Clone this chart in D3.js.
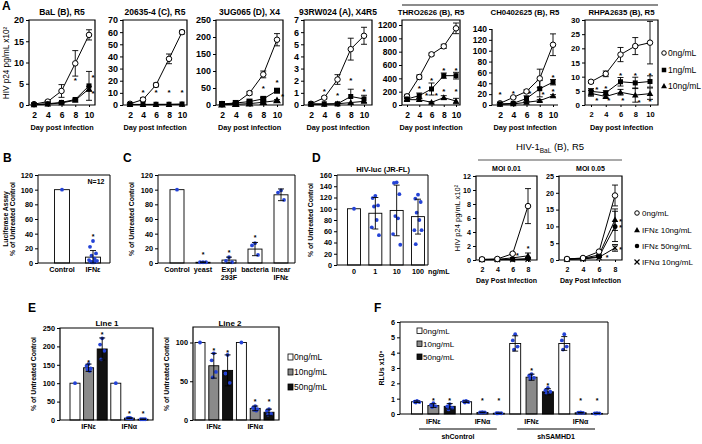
<!DOCTYPE html>
<html><head><meta charset="utf-8">
<script src="https://cdn.jsdelivr.net/npm/d3@7"></script>
<style>body{margin:0;background:#fff} text{font-family:"Liberation Sans",Arial,Helvetica,sans-serif}</style>
</head><body><svg id="c" width="702" height="444"></svg>
<script>
// ================= DATA =================
const daysA = [2,4,6,8,10];
const legendA = ["0ng/mL","1ng/mL","10ng/mL"];
const titlesA = ["BaL (B), R5","20635-4 (C), R5","3UG065 (D), X4","93RW024 (A), X4R5","THRO2626 (B), R5","CH0402625 (B), R5","RHPA2635 (B), R5"];

const bal0=[0.2,0.8,3.3,9.8,16.5],  bal0E=[0.2,0.2,1.5,3.0,1.2];
const bal1=[0.1,0.3,0.6,1.3,4.5],   bal1E=[0,0,0.2,0.3,3.4];
const bal10=[0.05,0.2,0.5,1.1,3.8], bal10E=[0,0,0.1,0.2,0.6];
const balStars=[[8,6.3],[10.6,7.0],[10.6,3.2]];

const c20_0=[1,4.5,16.5,38,60], c20_0E=[0.5,1.5,1.5,4,1.5];
const c20_1=[0.5,0.5,0.6,0.6,0.8], c20_1E=[0,0,0,0,0];
const c20_10=[0.3,0.3,0.3,0.4,0.5], c20_10E=[0,0,0,0,0];
const c20Stars=[[4,12],[6,12],[8,12],[10,12]];

const ug0=[2,5,35,90,192], ug0E=[2,3,5,10,18];
const ug1=[3,6,10,18,42], ug1E=[1,1,2,4,5];
const ug10=[1,2,4,8,13], ug10E=[0.5,1,1,2,3];
const ugStars=[[8,55],[10,72],[10.8,32]];

const rw0=[0.1,0.6,2.1,4.6,5.7], rw0E=[0.1,0.1,0.4,0.9,0.7];
const rw1=[0.1,0.1,0.1,0.7,0.5], rw1E=[0,0,0.1,0.6,0.3];
const rw10=[0.05,0.05,0.1,0.2,0.3], rw10E=[0,0,0,0,0];
const rwStars=[[4,1.3],[6,0.95],[8,2.15],[10,1.3]];

const th0=[130,420,760,880,1150], th0E=[30,30,20,30,80];
const th1=[90,140,240,440,440], th1E=[20,40,90,40,50];
const th10=[80,80,40,110,60], th10E=[20,20,10,30,40];
const thStars=[[4,270],[6,390],[8,550],[10,550],[5.2,170],[6.8,170],[8,230],[10,230]];

const ch0=[3,14,25,49,111], ch0E=[1,1,3,17,20];
const ch1=[2,3,12,30,42], ch1E=[1,1,5,15,5];
const ch10=[1,2,5,8,17], ch10E=[0.5,0.5,1,2,2];
const chStars=[[2,22],[4,24],[6.5,24],[8.5,22],[10,55],[10,29]];

const rh0=[8.2,11,17.8,20.8,22], rh0E=[0.5,1,2.5,3,7.5];
const rh1=[4.8,4.3,8.2,7.8,8.3], rh1E=[1,0.7,1.5,2,2];
const rh10=[4.1,3,4.5,3.5,4], rh10E=[1,0.5,1,2.5,2];
const rhStars=[[2.8,6],[4,6.4],[6,11],[8,11],[10,11],[2.8,2.4],[4.4,2.2],[6.3,2.2],[8.5,1.6],[10,1.8]];

// Panel B
const catB=["Control","IFNε"];
const valB=[100,8], errB=[0,9];
const dotsB=[[100],[30,22,13,10,6,4,3,2,2,1,1,1]];
// Panel C
const catC=[["Control"],["yeast"],["Expi","293F"],["bacteria"],["linear","IFNε"]];
const valC=[100,1,4,19,93], errC=[0,0.5,4,9,8];
const dotsC=[[100],[1,1,1],[8,3,1],[27,24,11],[99,96,86]];
const starsC=[null,14,16,36,null];
// Panel D left
const catD=["0","1","10","100"];
const valD=[100,92,97,86], errD=[0,28,45,31];
const dotsD=[[100],[123,119,106,104,80,67,53],[147,146,126,87,83,55,36],[125,118,112,93,80,62,62,37]];
// Panel D right
const daysD=[2,4,6,8];
const legendD=["0ng/mL","IFNε 10ng/mL","IFNε 50ng/mL","IFNα 10ng/mL"];
const m1_0=[0.1,0.15,0.9,7.7], m1_0E=[0,0,0.1,2.5];
const m1_e10=[0.05,0.1,0.3,0.6], m1_e10E=[0,0,0,0.4];
const m1_e50=[0.05,0.05,0.1,0.2], m1_e50E=[0,0,0,0.1];
const m1_a10=[0.05,0.05,0.05,0.1], m1_a10E=[0,0,0,0];
const m1Stars=[[6.6,0.9],[8,1.8]];
const m5_0=[0.3,0.6,2.5,19.2], m5_0E=[0,0.1,0.3,3.1];
const m5_e10=[0.3,0.5,1.5,12], m5_e10E=[0,0,0.2,3.2];
const m5_e50=[0.2,0.4,1.0,10], m5_e50E=[0,0,0.1,4.5];
const m5_a10=[0.2,0.3,0.8,3.6], m5_a10E=[0,0,0.1,1.0];
const m5Stars=[[8.7,12],[8.7,10],[8.7,3.6],[7,1.2]];
// Panel E
const legendE=["0ng/mL","10ng/mL","50ng/mL"];
const groupsE=["IFNε","IFNα"];
const e1Val=[100,142,193,100,5,2], e1Err=[0,10,30,0,1,0.5];
const e1Dots=[[100],[152,147,140,137,133],[222,205,188,165],[100],[6,5,4,5,5],[2,2,2]];
const e1Stars=[null,160,235,null,20,20];
const e2Val=[100,70,64,100,15,10], e2Err=[0,16,20,0,3,4];
const e2Dots=[[100],[86,77,62,55],[84,60,48],[100],[18,16,14,13,12],[14,12,8,7]];
const e2Stars=[null,91,89,null,26,26];
// Panel F
const groupsF=["IFNε","IFNα","IFNε","IFNα"];
const cellsF=["shControl","shSAMHD1"];
const fVal=[0.8,0.55,0.5,0.8,0.1,0.05,4.6,2.4,1.45,4.6,0.08,0.04];
const fErr=[0.05,0.12,0.18,0.05,0.02,0.01,0.5,0.2,0.2,0.45,0.02,0.01];
const fDots=[[0.85,0.8,0.78,0.75],[0.7,0.6,0.5,0.45],[0.65,0.5,0.4,0.3],[0.86,0.82,0.78,0.75],
  [0.12,0.1,0.1,0.09],[0.06,0.05,0.05,0.04],[5.2,4.8,4.4,4.2],[2.6,2.5,2.35,2.3],[1.7,1.55,1.45,1.35],
  [5.2,4.8,4.4,4.2],[0.1,0.08,0.07,0.07],[0.05,0.04,0.04,0.03]];
const fStars=[null,1.0,1.0,null,1.0,1.0,null,2.9,1.95,null,1.0,1.0];

// ================= DRAWING =================
const svg=d3.select("#c");
const BLUE="#2443d6";
const FILLS=["#ffffff","#8a8a8a","#111111"];
const fmt=d3.format("d");

function txt(x,y,s,o={}){
  const t=svg.append("text").attr("x",x).attr("y",y).text(s)
    .attr("font-size",o.size||8).attr("font-weight",o.bold?"bold":"normal")
    .attr("text-anchor",o.anchor||"middle").attr("fill",o.fill||"#000");
  if(o.rot) t.attr("transform",`rotate(-90,${x},${y})`);
  return t;
}
function star(x,y,size){ txt(x,y+size*0.55,"*",{size:size,bold:true}); }

function marker(g,type,cx,cy,sz){
  if(type==="circle") g.append("circle").attr("cx",cx).attr("cy",cy).attr("r",sz*0.5).attr("fill","#fff").attr("stroke","#000").attr("stroke-width",1);
  else if(type==="dot") g.append("circle").attr("cx",cx).attr("cy",cy).attr("r",sz*0.5).attr("fill","#000");
  else if(type==="square") g.append("rect").attr("x",cx-sz/2).attr("y",cy-sz/2).attr("width",sz).attr("height",sz).attr("fill","#000");
  else if(type==="triangle") g.append("path").attr("d",d3.symbol(d3.symbolTriangle,sz*sz*0.75)()).attr("transform",`translate(${cx},${cy+0.5})`).attr("fill","#000");
  else if(type==="cross") g.append("path").attr("d",`M${cx-2.5},${cy-2.5}L${cx+2.5},${cy+2.5}M${cx-2.5},${cy+2.5}L${cx+2.5},${cy-2.5}`).attr("stroke","#000").attr("stroke-width",1.2);
}

function styleAxis(sel,size,bold){
  sel.select(".domain").remove();
  sel.selectAll(".tick line").attr("stroke","#000");
  sel.selectAll(".tick text").attr("font-size",size).attr("font-weight",bold?"bold":"normal")
    .attr("font-family",'"Liberation Sans",Arial,sans-serif').attr("fill","#000");
}

function linePanel(o){
  const x=d3.scaleLinear().domain(o.xd).range(o.xr);
  const y=d3.scaleLinear().domain(o.yd).range([o.b,o.t]);
  const g=svg.append("g");
  const ya=g.append("g").attr("transform",`translate(${o.l},0)`)
    .call(d3.axisLeft(y).tickValues(o.yt).tickFormat(fmt).tickSize(3).tickPadding(2));
  styleAxis(ya,o.ys||9,true);
  const xa=g.append("g").attr("transform",`translate(0,${o.b})`)
    .call(d3.axisBottom(x).tickValues(o.xt).tickFormat(fmt).tickSize(2).tickPadding(5));
  styleAxis(xa,o.xs||8.5,true);
  const fr=o.box?`M${o.l},${o.b}V${o.t}H${o.r}V${o.b}Z`:`M${o.l},${o.t}V${o.b}H${o.r}`;
  g.append("path").attr("d",fr).attr("fill","none").attr("stroke","#000").attr("stroke-width",1.2);
  o.series.forEach(s=>{
    const pts=o.days.map((d,i)=>[x(d),y(s.v[i])]);
    g.append("path").attr("d",d3.line()(pts)).attr("fill","none").attr("stroke","#000").attr("stroke-width",1);
    s.v.forEach((v,i)=>{
      const e=s.e[i]; if(!e) return;
      const cx=x(o.days[i]), yu=y(v+e), yl=y(Math.max(0,v-e));
      g.append("path").attr("d",`M${cx},${yu}V${yl}M${cx-3},${yu}H${cx+3}M${cx-3},${yl}H${cx+3}`)
        .attr("stroke","#000").attr("stroke-width",0.9).attr("fill","none");
    });
  });
  o.series.forEach(s=>{
    o.days.forEach((d,i)=>marker(g,s.m,x(d),y(s.v[i]),s.sz||5));
  });
  o.stars.forEach(([sx,sy])=>star(x(sx),y(sy),o.starSize||8));
  if(o.title) txt((o.l+o.r)/2,o.t-5,o.title,{size:o.titleSize||8.5,bold:true});
  if(o.xlab) txt((o.l+o.r)/2,o.xlabY,o.xlab,{size:o.xlabSize||7.3,bold:true});
  return {x,y};
}

// ---- Panel A ----
txt(2,10,"A",{size:12,bold:true,anchor:"start"});
svg.append("path").attr("d","M402,5H658").attr("stroke","#8c8c8c").attr("stroke-width",2);
const panelsA=[
  {l:29,r:95,x2:34,x10:89,yd:[0,20],yt:[0,5,10,15,20],s:[[bal0,bal0E],[bal1,bal1E],[bal10,bal10E]],st:balStars,box:true},
  {l:123,r:187,x2:130,x10:182,yd:[0,70],yt:d3.range(0,71,10),s:[[c20_0,c20_0E],[c20_1,c20_1E],[c20_10,c20_10E]],st:c20Stars,box:true},
  {l:216,r:283,x2:222,x10:277,yd:[0,250],yt:d3.range(0,251,50),s:[[ug0,ug0E],[ug1,ug1E],[ug10,ug10E]],st:ugStars,box:true,sz:6},
  {l:304,r:372,x2:311,x10:364,yd:[0,7],yt:d3.range(0,8,1),s:[[rw0,rw0E],[rw1,rw1E],[rw10,rw10E]],st:rwStars,box:true},
  {l:402,r:460,x2:407,x10:456,yd:[0,1275],yt:d3.range(0,1201,200),s:[[th0,th0E],[th1,th1E],[th10,th10E]],st:thStars,box:true},
  {l:492,r:558,x2:500,x10:553,yd:[0,140],yt:d3.range(0,141,20),s:[[ch0,ch0E],[ch1,ch1E],[ch10,ch10E]],st:chStars,box:false,t:29},
  {l:585,r:658,x2:591,x10:650,yd:[0,30],yt:d3.range(0,31,5),s:[[rh0,rh0E],[rh1,rh1E],[rh10,rh10E]],st:rhStars,box:true,ys:8,xs:7.5}
];
const mk=["circle","square","triangle"];
panelsA.forEach((p,k)=>{
  const t=p.t||20;
  linePanel({l:p.l,r:p.r,t:t,b:105,xd:[2,10],xr:[p.x2,p.x10],yd:p.yd,yt:p.yt,xt:daysA,days:daysA,box:p.box,
    ys:p.ys||(k>=4?8.5:9),xs:p.xs||8.5,
    series:p.s.map((s,i)=>({v:s[0],e:s[1],m:mk[i],sz:i===0?5.5:(p.sz||5)})),
    stars:p.st,title:null,xlab:"Day post infection",xlabY:130,xlabSize:7.3});
  txt((p.l+p.r)/2,15,titlesA[k],{size:k>=4?7.8:8.5,bold:true});
});
txt(9,63,"HIV p24 pg/mL x10²",{size:8.2,rot:true});
// legend A
legendA.forEach((s,i)=>{
  const yy=[53,70,86][i];
  const g=svg.append("g");
  marker(g,mk[i],664,yy,4.5);
  txt(668,yy+3,s,{size:8.5,anchor:"start"});
});

// ---- Bar panel helper ----
function barPanel(o){
  const y=d3.scaleLinear().domain(o.yd).range([o.b,o.t]);
  const x=d3.scaleLinear().domain([0,o.vals.length-1]).range(o.cr);
  const g=svg.append("g");
  const ya=g.append("g").attr("transform",`translate(${o.l},0)`)
    .call(d3.axisLeft(y).tickValues(o.yt).tickFormat(fmt).tickSize(3).tickPadding(2));
  styleAxis(ya,o.ys||7.3,true);
  const w=o.bw;
  o.vals.forEach((v,i)=>{
    const cx=x(i);
    g.append("rect").attr("x",cx-w/2).attr("y",y(v)).attr("width",w).attr("height",o.b-y(v))
      .attr("fill",o.fills?o.fills[i]:"#fff").attr("stroke","#000").attr("stroke-width",0.9);
  });
  g.append("path").attr("d",`M${o.l},${o.b}V${o.t}H${o.r}V${o.b}Z`).attr("fill","none").attr("stroke","#000").attr("stroke-width",o.frameW||1);
  o.vals.forEach((v,i)=>{
    const cx=x(i);
    const ds=o.dots[i];
    const offs=[0,-3,3,-1.5,1.5,-4,4,-2.5,2.5,-1,1,0];
    ds.forEach((d,j)=>{
      const dx=ds.length===1?0:offs[j%offs.length]*(o.jit||1);
      g.append("circle").attr("cx",cx+dx).attr("cy",y(d)).attr("r",o.dr||1.9).attr("fill",BLUE);
    });
    const e=o.errs[i];
    if(e){
      const yu=y(v+e), yl=y(Math.max(0,v-e));
      g.append("path").attr("d",`M${cx},${yu}V${yl}M${cx-3},${yu}H${cx+3}M${cx-3},${yl}H${cx+3}`)
        .attr("stroke","#000").attr("stroke-width",0.9).attr("fill","none");
    }
    if(o.stars && o.stars[i]!=null) star(cx,y(o.stars[i]),7);
  });
  return {x,y};
}

// ---- Panel B ----
txt(3,162,"B",{size:12,bold:true,anchor:"start"});
const pB=barPanel({l:38,r:110,t:175,b:263,yd:[0,120],yt:d3.range(0,121,20),vals:valB,errs:errB,dots:dotsB,cr:[62,93],bw:15,stars:[null,38]});
catB.forEach((c,i)=>txt(pB.x(i),272,c,{size:7.2,bold:true}));
txt(96,184,"N=12",{size:7,bold:true});
txt(8,219,"Luciferase Assay",{size:6.8,bold:true,rot:true});
txt(15,219,"% of Untreated Control",{size:6.8,bold:true,rot:true});

// ---- Panel C ----
txt(123,162,"C",{size:12,bold:true,anchor:"start"});
const pC=barPanel({l:158,r:295,t:175,b:263,yd:[0,120],yt:d3.range(0,121,20),vals:valC,errs:errC,dots:dotsC,cr:[177,281],bw:14,stars:starsC,jit:1});
catC.forEach((c,i)=>c.forEach((s,j)=>txt(pC.x(i),272+j*7.5,s,{size:7.2,bold:true})));
txt(134,219,"% of Untreated Control",{size:6.8,bold:true,rot:true});

// ---- Panel D left ----
txt(312,162,"D",{size:12,bold:true,anchor:"start"});
const pD=barPanel({l:337,r:428,t:175,b:265,yd:[0,160],yt:d3.range(0,161,20),vals:valD,errs:errD,dots:dotsD,cr:[354,418],bw:13,jit:0.9});
catD.forEach((c,i)=>txt(pD.x(i),274,c,{size:7.2,bold:true}));
txt(428,274,"ng/mL",{size:7.2,bold:true,anchor:"start"});
txt(383,172,"HIV-luc (JR-FL)",{size:7.5,bold:true});
txt(313,220,"% of Untreated Control",{size:6.8,bold:true,rot:true});

// ---- Panel D right ----
const t1=txt(550,150,"HIV-1",{size:9.5});
t1.append("tspan").text("BaL").attr("font-size",6.5).attr("dy",2.5);
t1.append("tspan").text(" (B), R5").attr("dy",-2.5);
svg.append("path").attr("d","M478,160H622").attr("stroke","#8c8c8c").attr("stroke-width",1.5);
const mkD=["circle","triangle","dot","cross"];
linePanel({l:476,r:537,t:176,b:260,xd:[2,8],xr:[482,528],yd:[0,12],yt:d3.range(0,13,2),xt:daysD,days:daysD,box:true,ys:7.2,xs:7,
  series:[[m1_a10,m1_a10E],[m1_e50,m1_e50E],[m1_e10,m1_e10E],[m1_0,m1_0E]].map((s,i)=>({v:s[0],e:s[1],m:mkD[3-i],sz:i===3?5.5:5})),
  stars:m1Stars,title:"MOI 0.01",titleSize:7,xlab:"Day Post Infection",xlabY:283,xlabSize:7,starSize:7});
linePanel({l:559,r:622,t:176,b:260,xd:[2,8],xr:[567,615],yd:[0,25],yt:d3.range(0,26,5),xt:daysD,days:daysD,box:true,ys:7.2,xs:7,
  series:[[m5_a10,m5_a10E],[m5_e50,m5_e50E],[m5_e10,m5_e10E],[m5_0,m5_0E]].map((s,i)=>({v:s[0],e:s[1],m:mkD[3-i],sz:i===3?5.5:5})),
  stars:m5Stars,title:"MOI 0.05",titleSize:7,xlab:"Day Post Infection",xlabY:283,xlabSize:7,starSize:7});
txt(460,218,"HIV p24 pg/mL x10²",{size:7.5,rot:true});
legendD.forEach((s,i)=>{
  const yy=[213,230,246,262][i];
  const g=svg.append("g");
  marker(g,mkD[i],637,yy,4.5);
  txt(642,yy+3,s,{size:8,anchor:"start"});
});

// ---- Panel E ----
txt(28,312,"E",{size:12,bold:true,anchor:"start"});
const fillsE=[0,1,2,0,1,2].map(i=>FILLS[i]);
const pE1=barPanel({l:60,r:153,t:328,b:420,yd:[0,250],yt:d3.range(0,251,50),vals:e1Val,errs:e1Err,dots:e1Dots,cr:[75,143],bw:10,fills:fillsE,stars:e1Stars,jit:0.7,frameW:1.2});
txt(107,326,"Line 1",{size:8,bold:true});
txt(36,374,"% of Untreated Control",{size:6.8,bold:true,rot:true});
groupsE.forEach((s,k)=>txt(pE1.x(k*3+1),429,s,{size:7,bold:true}));
const pE2=barPanel({l:193,r:279,t:327,b:420,yd:[0,120],yt:[0,50,100],vals:e2Val,errs:e2Err,dots:e2Dots,cr:[200,269],bw:10,fills:fillsE,stars:e2Stars,jit:0.7,frameW:1.2});
txt(230,326,"Line 2",{size:8,bold:true});
txt(169,374,"% of Untreated Control",{size:6.8,bold:true,rot:true});
groupsE.forEach((s,k)=>txt(pE2.x(k*3+1),429,s,{size:7,bold:true}));
legendE.forEach((s,i)=>{
  const yy=[357,372,387][i];
  svg.append("rect").attr("x",288).attr("y",yy-3).attr("width",5).attr("height",6).attr("fill",FILLS[i]).attr("stroke","#000").attr("stroke-width",0.8);
  txt(294,yy+3,s,{size:8.5,anchor:"start"});
});

// ---- Panel F ----
txt(374,312,"F",{size:12,bold:true,anchor:"start"});
const fillsF=d3.range(12).map(i=>FILLS[i%3]);
const pF=barPanel({l:400,r:608,t:322,b:414,yd:[0,6],yt:d3.range(0,7,1),vals:fVal,errs:fErr,dots:fDots,cr:[417,597],bw:11,fills:fillsF,stars:fStars,jit:0.8});
txt(384,368,"RLUs x10⁶",{size:7,bold:true,rot:true});
groupsF.forEach((s,k)=>txt(pF.x(k*3+1),424,s,{size:7,bold:true}));
cellsF.forEach((s,k)=>{
  const a=pF.x(k*6)+5, b2=pF.x(k*6+5)-5;
  svg.append("path").attr("d",`M${a-3},429H${b2+3}`).attr("stroke","#000").attr("stroke-width",1);
  txt((a+b2)/2,439,s,{size:7,bold:true});
});
legendE.forEach((s,i)=>{
  const yy=[331,344,357][i];
  svg.append("rect").attr("x",417).attr("y",yy-3).attr("width",5).attr("height",5.5).attr("fill",FILLS[i]).attr("stroke","#000").attr("stroke-width",0.8);
  txt(423,yy+3,s,{size:8,anchor:"start"});
});
</script></body></html>
